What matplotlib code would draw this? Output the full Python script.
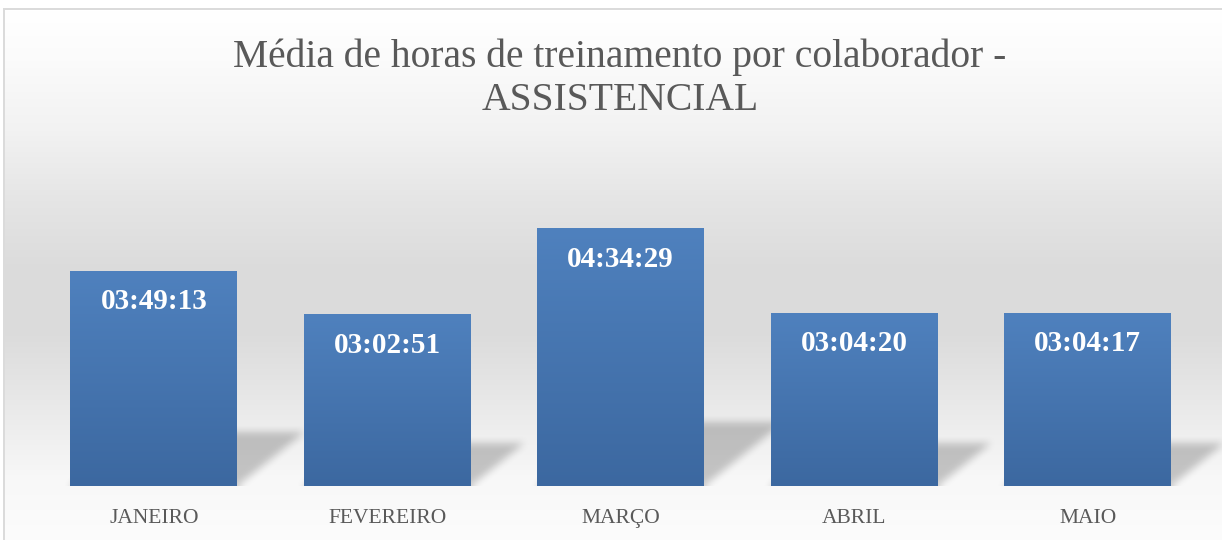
import numpy as np
import matplotlib
matplotlib.use('Agg')
from matplotlib import pyplot as plt

W, H = 1222, 540  # tamanho da figura em pixels

meses = ['JANEIRO', 'FEVEREIRO', 'MARÇO', 'ABRIL', 'MAIO']
medias = ['03:49:13', '03:02:51', '04:34:29', '03:04:20', '03:04:17']  # hh:mm:ss
titulo = 'Média de horas de treinamento por colaborador -\nASSISTENCIAL'

FONTE = 'Liberation Serif'
CINZA_TEXTO = '#595959'


def para_segundos(txt):
    h, m, s = (int(p) for p in txt.split(':'))
    return h * 3600 + m * 60 + s


def caixa_blur(arr, r, axis):  # desfoque simples por media movel
    pad = [(0, 0)] * arr.ndim
    pad[axis] = (r + 1, r)
    a = np.pad(arr, pad, mode='edge')
    c = np.cumsum(a, axis=axis)
    n = arr.shape[axis]
    hi = np.take(c, np.arange(2 * r + 1, 2 * r + 1 + n), axis=axis)
    lo = np.take(c, np.arange(0, n), axis=axis)
    return (hi - lo) / (2 * r + 1)


segundos = np.array([para_segundos(t) for t in medias])
x = np.arange(len(meses))
LARG = 0.715
YMAX = 18000

fig = plt.figure(figsize=(W / 100, H / 100), dpi=100)

# fundo com degrade cinza e moldura
bg_ax = fig.add_axes([0, 0, 1, 1], zorder=0)
linhas = np.arange(H)
tons = np.interp(linhas, [10, 60, 130, 200, 270, 330, 380, 430, 480, 540],
                 [255, 251, 242, 229, 219, 219, 228, 238, 248, 252]) / 255
fundo = np.ones((H, W, 3))
fundo[:, :, :] = tons[:, None, None]
fundo[:8, :] = 1.0
fundo[:, :3] = 1.0
fundo[8:10, 3:] = 0.86
fundo[8:, 3:5] = 0.86
bg_ax.imshow(fundo, extent=(0, W, H, 0), aspect='auto', interpolation='nearest')
bg_ax.set_axis_off()

left, right, base, topo = 37, 1204.5, 486, 205
ax = fig.add_axes([left / W, (H - base) / H, (right - left) / W, (base - topo) / H], zorder=1)
ax.patch.set_alpha(0)

# sombras em perspectiva atras das barras (grade com folga a direita)
px_x = (right - left) / len(meses)
px_y = (base - topo) / YMAX
folga = 0.15
nx = int(round((len(meses) + folga) * px_x))
ny = int(round(base - topo))
sombra = np.zeros((ny, nx))
yy = np.arange(ny)[:, None] + 0.5
xx = np.arange(nx)[None, :] + 0.5
for xi, s in zip(x, segundos):
    hs = 0.25 * s * px_y
    d = 1.25 * hs
    esq = (xi + 0.5 - LARG / 2) * px_x
    dir_ = (xi + 0.5 + LARG / 2) * px_x
    desl = d * yy / hs
    sombra += ((yy <= hs) & (xx >= esq + desl) & (xx <= dir_ + desl)).astype(float)
sombra = np.clip(sombra, 0, 1)
for _ in range(2):
    sombra = caixa_blur(sombra, 4, 0)
    sombra = caixa_blur(sombra, 4, 1)
rgba = np.zeros((ny, nx, 4))
rgba[..., 3] = 0.21 * sombra
ax.imshow(rgba, extent=(-0.5, len(meses) - 0.5 + folga, 0, YMAX), origin='lower',
          aspect='auto', zorder=1, interpolation='bilinear', clip_on=False)

# barras com degrade azul
barras = ax.bar(x, segundos, width=LARG, color='none', zorder=2)
grad = np.linspace(0, 1, 256)[:, None, None]
topo_cor = np.array([0x4f, 0x81, 0xbe]) / 255
base_cor = np.array([0x3c, 0x68, 0xa0]) / 255
grad_img = base_cor * (1 - grad) + topo_cor * grad
for b in barras:
    ax.imshow(grad_img, extent=(b.get_x(), b.get_x() + b.get_width(), 0, b.get_height()),
              origin='lower', aspect='auto', zorder=2)
ax.set_xlim(-0.5, len(meses) - 0.5)
ax.set_ylim(0, YMAX)

# rotulos de valor dentro das barras
for xi, s, txt in zip(x, segundos, medias):
    ax.annotate(txt, (xi, s), xytext=(0, -22), textcoords='offset points',
                ha='center', va='center', color='white', fontsize=21,
                fontweight='bold', family=FONTE, zorder=3)

ax.set_xticks(x, meses, family=FONTE, fontsize=15.5, color=CINZA_TEXTO)
ax.tick_params(axis='x', length=0, pad=16.5)
ax.set_yticks([])
for sp in ax.spines.values():
    sp.set_visible(False)

fig.text(620 / W, 1 - 79 / H, titulo, ha='center', va='center', family=FONTE,
         fontsize=28.5, color=CINZA_TEXTO, linespacing=1.2)

fig.savefig('out.png', dpi=100)
